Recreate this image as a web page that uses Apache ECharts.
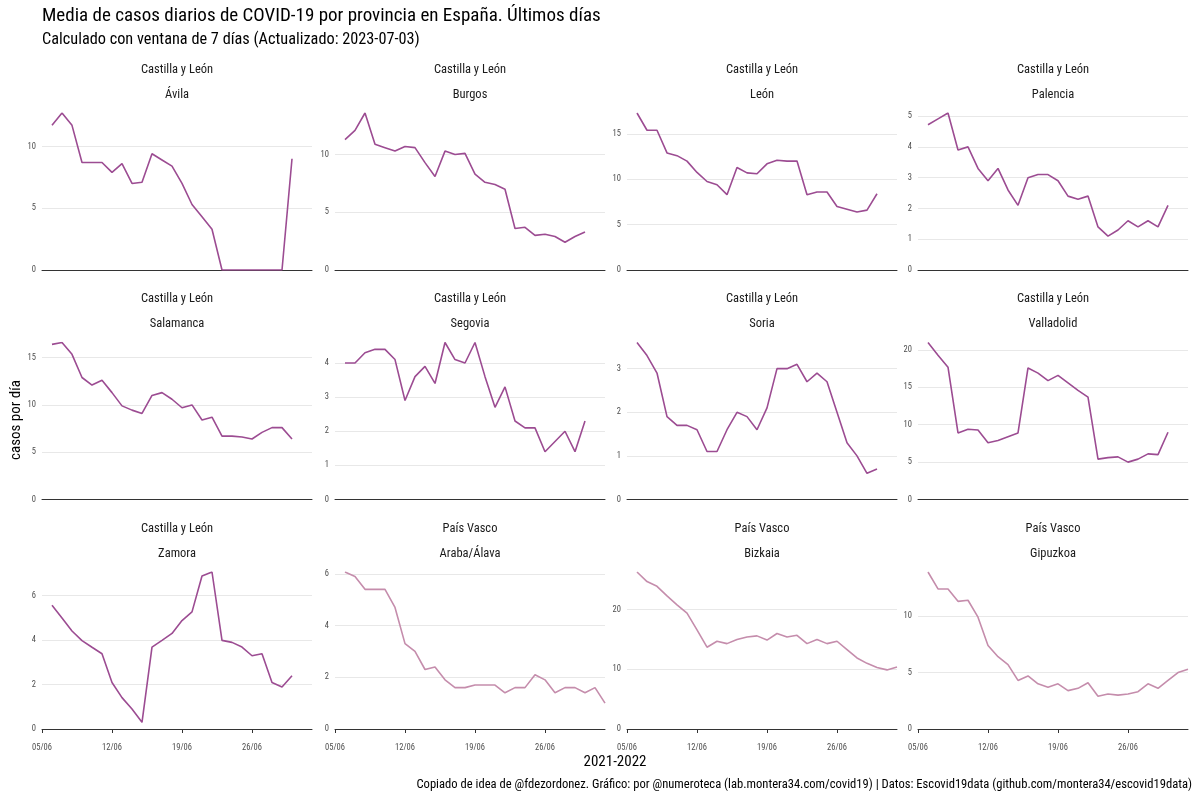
<!DOCTYPE html>
<html><head><meta charset="utf-8">
<script src="https://cdn.jsdelivr.net/npm/echarts@6/dist/echarts.min.js"></script>
<style>html,body{margin:0;padding:0;background:#fff}#c{width:1200px;height:800px}</style>
</head><body><div id="c"></div>
<script>
const dates = ['05/06','06/06','07/06','08/06','09/06','10/06','11/06','12/06','13/06','14/06','15/06','16/06','17/06','18/06','19/06','20/06','21/06','22/06','23/06','24/06','25/06','26/06','27/06','28/06','29/06','30/06','01/07','02/07'];
const regions = ['Castilla y León','Castilla y León','Castilla y León','Castilla y León','Castilla y León','Castilla y León','Castilla y León','Castilla y León','Castilla y León','País Vasco','País Vasco','País Vasco'];
const provinces = ['Ávila','Burgos','León','Palencia','Salamanca','Segovia','Soria','Valladolid','Zamora','Araba/Álava','Bizkaia','Gipuzkoa'];

const avila = [11.7,12.7,11.7,8.7,8.7,8.7,7.9,8.6,7.0,7.1,9.4,8.9,8.4,7.0,5.3,4.3,3.3,0,0,0,0,0,0,0,9.0];
const burgos = [11.3,12.1,13.6,10.9,10.6,10.3,10.7,10.6,9.3,8.1,10.3,10.0,10.1,8.3,7.6,7.4,7.0,3.6,3.7,3.0,3.1,2.9,2.4,2.9,3.3];
const leon = [17.3,15.4,15.4,12.9,12.6,12.0,10.75,9.75,9.4,8.3,11.3,10.7,10.6,11.7,12.1,12.0,12.0,8.3,8.6,8.6,7.0,6.7,6.4,6.6,8.4];
const palencia = [4.72,4.91,5.1,3.9,4.0,3.3,2.9,3.3,2.6,2.1,3.0,3.1,3.1,2.9,2.4,2.3,2.4,1.4,1.1,1.3,1.6,1.4,1.6,1.4,2.1];
const salamanca = [16.4,16.6,15.35,12.9,12.1,12.6,11.3,9.9,9.45,9.1,11.0,11.3,10.6,9.7,10.0,8.4,8.7,6.7,6.7,6.6,6.4,7.1,7.6,7.6,6.4];
const segovia = [4.0,4.0,4.3,4.4,4.4,4.1,2.9,3.6,3.9,3.4,4.6,4.1,4.0,4.6,3.6,2.7,3.3,2.3,2.1,2.1,1.4,1.7,2.0,1.4,2.3];
const soria = [3.6,3.3,2.9,1.9,1.7,1.7,1.6,1.1,1.1,1.6,2.0,1.9,1.6,2.1,3.0,3.0,3.1,2.7,2.9,2.7,2.0,1.3,1.0,0.6,0.7];
const valladolid = [21.0,19.3,17.7,8.9,9.4,9.3,7.6,7.9,8.4,8.9,17.6,16.9,15.9,16.6,15.6,14.6,13.7,5.4,5.6,5.7,5.0,5.4,6.1,6.0,9.0];
const zamora = [5.56,4.98,4.4,3.97,3.67,3.38,2.09,1.41,0.9,0.3,3.68,3.98,4.29,4.87,5.26,6.87,7.05,3.98,3.89,3.68,3.29,3.38,2.09,1.89,2.39];
const araba = [6.07,5.9,5.4,5.4,5.4,4.7,3.3,3.0,2.3,2.4,1.9,1.6,1.6,1.7,1.7,1.7,1.4,1.6,1.6,2.1,1.9,1.4,1.6,1.6,1.4,1.6,1.0];
const bizkaia = [26.3,24.7,23.9,22.3,20.8,19.4,16.6,13.7,14.7,14.3,15.0,15.4,15.6,14.9,16.0,15.4,15.7,14.3,15.0,14.3,14.7,13.3,11.9,11.0,10.3,9.9,10.4];
const gipuzkoa = [13.9,12.4,12.4,11.3,11.4,9.9,7.4,6.4,5.7,4.3,4.7,4.0,3.7,4.0,3.4,3.6,4.1,2.9,3.1,3.0,3.1,3.3,4.0,3.6,4.3,5.0,5.3];

const seriesValues = [avila,burgos,leon,palencia,salamanca,segovia,soria,valladolid,zamora,araba,bizkaia,gipuzkoa];
const yTickSteps = [5,5,5,1,5,1,1,5,2,2,10,5];

const FONT = "'Roboto Condensed','Liberation Sans Narrow','Arial Narrow',Roboto,sans-serif";
const lefts = [42, 335, 627, 918];
const tops = [113, 342.5, 572];
const W = 270, H = 157;
const colorFor = r => r === 'País Vasco' ? '#c58dac' : '#9c4c92';

const grid = [], xAxis = [], yAxis = [], series = [], graphic = [];
seriesValues.forEach((vals, i) => {
  const col = i % 4, row = Math.floor(i / 4);
  const bottomRow = row === 2;
  grid.push({left: lefts[col], top: tops[row], width: W, height: H, containLabel: false});
  xAxis.push({
    type: 'category', gridIndex: i, data: dates, boundaryGap: false,
    axisLine: {show: true, lineStyle: {color: '#333', width: 1}},
    axisTick: {show: bottomRow, interval: 6, length: 4, lineStyle: {color: '#333'}},
    axisLabel: {show: bottomRow, interval: 6, fontSize: 8.5, color: '#4d4d4d', margin: 14, fontFamily: FONT},
    splitLine: {show: false}
  });
  yAxis.push({
    type: 'value', gridIndex: i, min: 0, max: 'dataMax', interval: yTickSteps[i],
    axisLine: {show: false}, axisTick: {show: false},
    axisLabel: {fontSize: 8.5, color: '#4d4d4d', margin: 6, fontFamily: FONT, showMaxLabel: false},
    splitLine: {show: true, showMinLine: false, showMaxLine: false, lineStyle: {color: '#e8e8e8', width: 1.2}}
  });
  series.push({
    type: 'line', xAxisIndex: i, yAxisIndex: i, showSymbol: false, symbol: 'none',
    data: vals.map((v, k) => [dates[k + 1], v]),
    lineStyle: {color: colorFor(regions[i]), width: 1.6},
    itemStyle: {color: colorFor(regions[i])},
    clip: true, animation: false
  });
  const cx = lefts[col] + W / 2;
  const stripTop = tops[row] - 43.5;
  graphic.push({type: 'text', x: cx, y: stripTop, style: {text: regions[i], textAlign: 'center', textVerticalAlign: 'middle', font: '12.5px ' + FONT, fill: '#1a1a1a'}});
  graphic.push({type: 'text', x: cx, y: stripTop + 25, style: {text: provinces[i], textAlign: 'center', textVerticalAlign: 'middle', font: '12.5px ' + FONT, fill: '#1a1a1a'}});
});

graphic.push({type: 'text', x: 42, y: 16, style: {text: 'Media de casos diarios de COVID-19 por provincia en España. Últimos días', textAlign: 'left', textVerticalAlign: 'middle', font: '19px ' + FONT, fill: '#000'}});
graphic.push({type: 'text', x: 42, y: 39.5, style: {text: 'Calculado con ventana de 7 días (Actualizado: 2023-07-03)', textAlign: 'left', textVerticalAlign: 'middle', font: '16.3px ' + FONT, fill: '#000'}});
graphic.push({type: 'text', x: 615, y: 762, style: {text: '2021-2022', textAlign: 'center', textVerticalAlign: 'middle', font: '15px ' + FONT, fill: '#000'}});
graphic.push({type: 'text', x: 16, y: 420, rotation: Math.PI / 2, style: {text: 'casos por día', textAlign: 'center', textVerticalAlign: 'middle', font: '15px ' + FONT, fill: '#000'}});
graphic.push({type: 'text', x: 1192, y: 785, style: {text: 'Copiado de idea de @fdezordonez. Gráfico: por @numeroteca (lab.montera34.com/covid19) | Datos: Escovid19data (github.com/montera34/escovid19data)', textAlign: 'right', textVerticalAlign: 'middle', font: '12.6px ' + FONT, fill: '#000'}});

const chart = echarts.init(document.getElementById('c'), null, {renderer: 'canvas'});
chart.setOption({animation: false, backgroundColor: '#fff', grid, xAxis, yAxis, series, graphic});
</script>
</body></html>
